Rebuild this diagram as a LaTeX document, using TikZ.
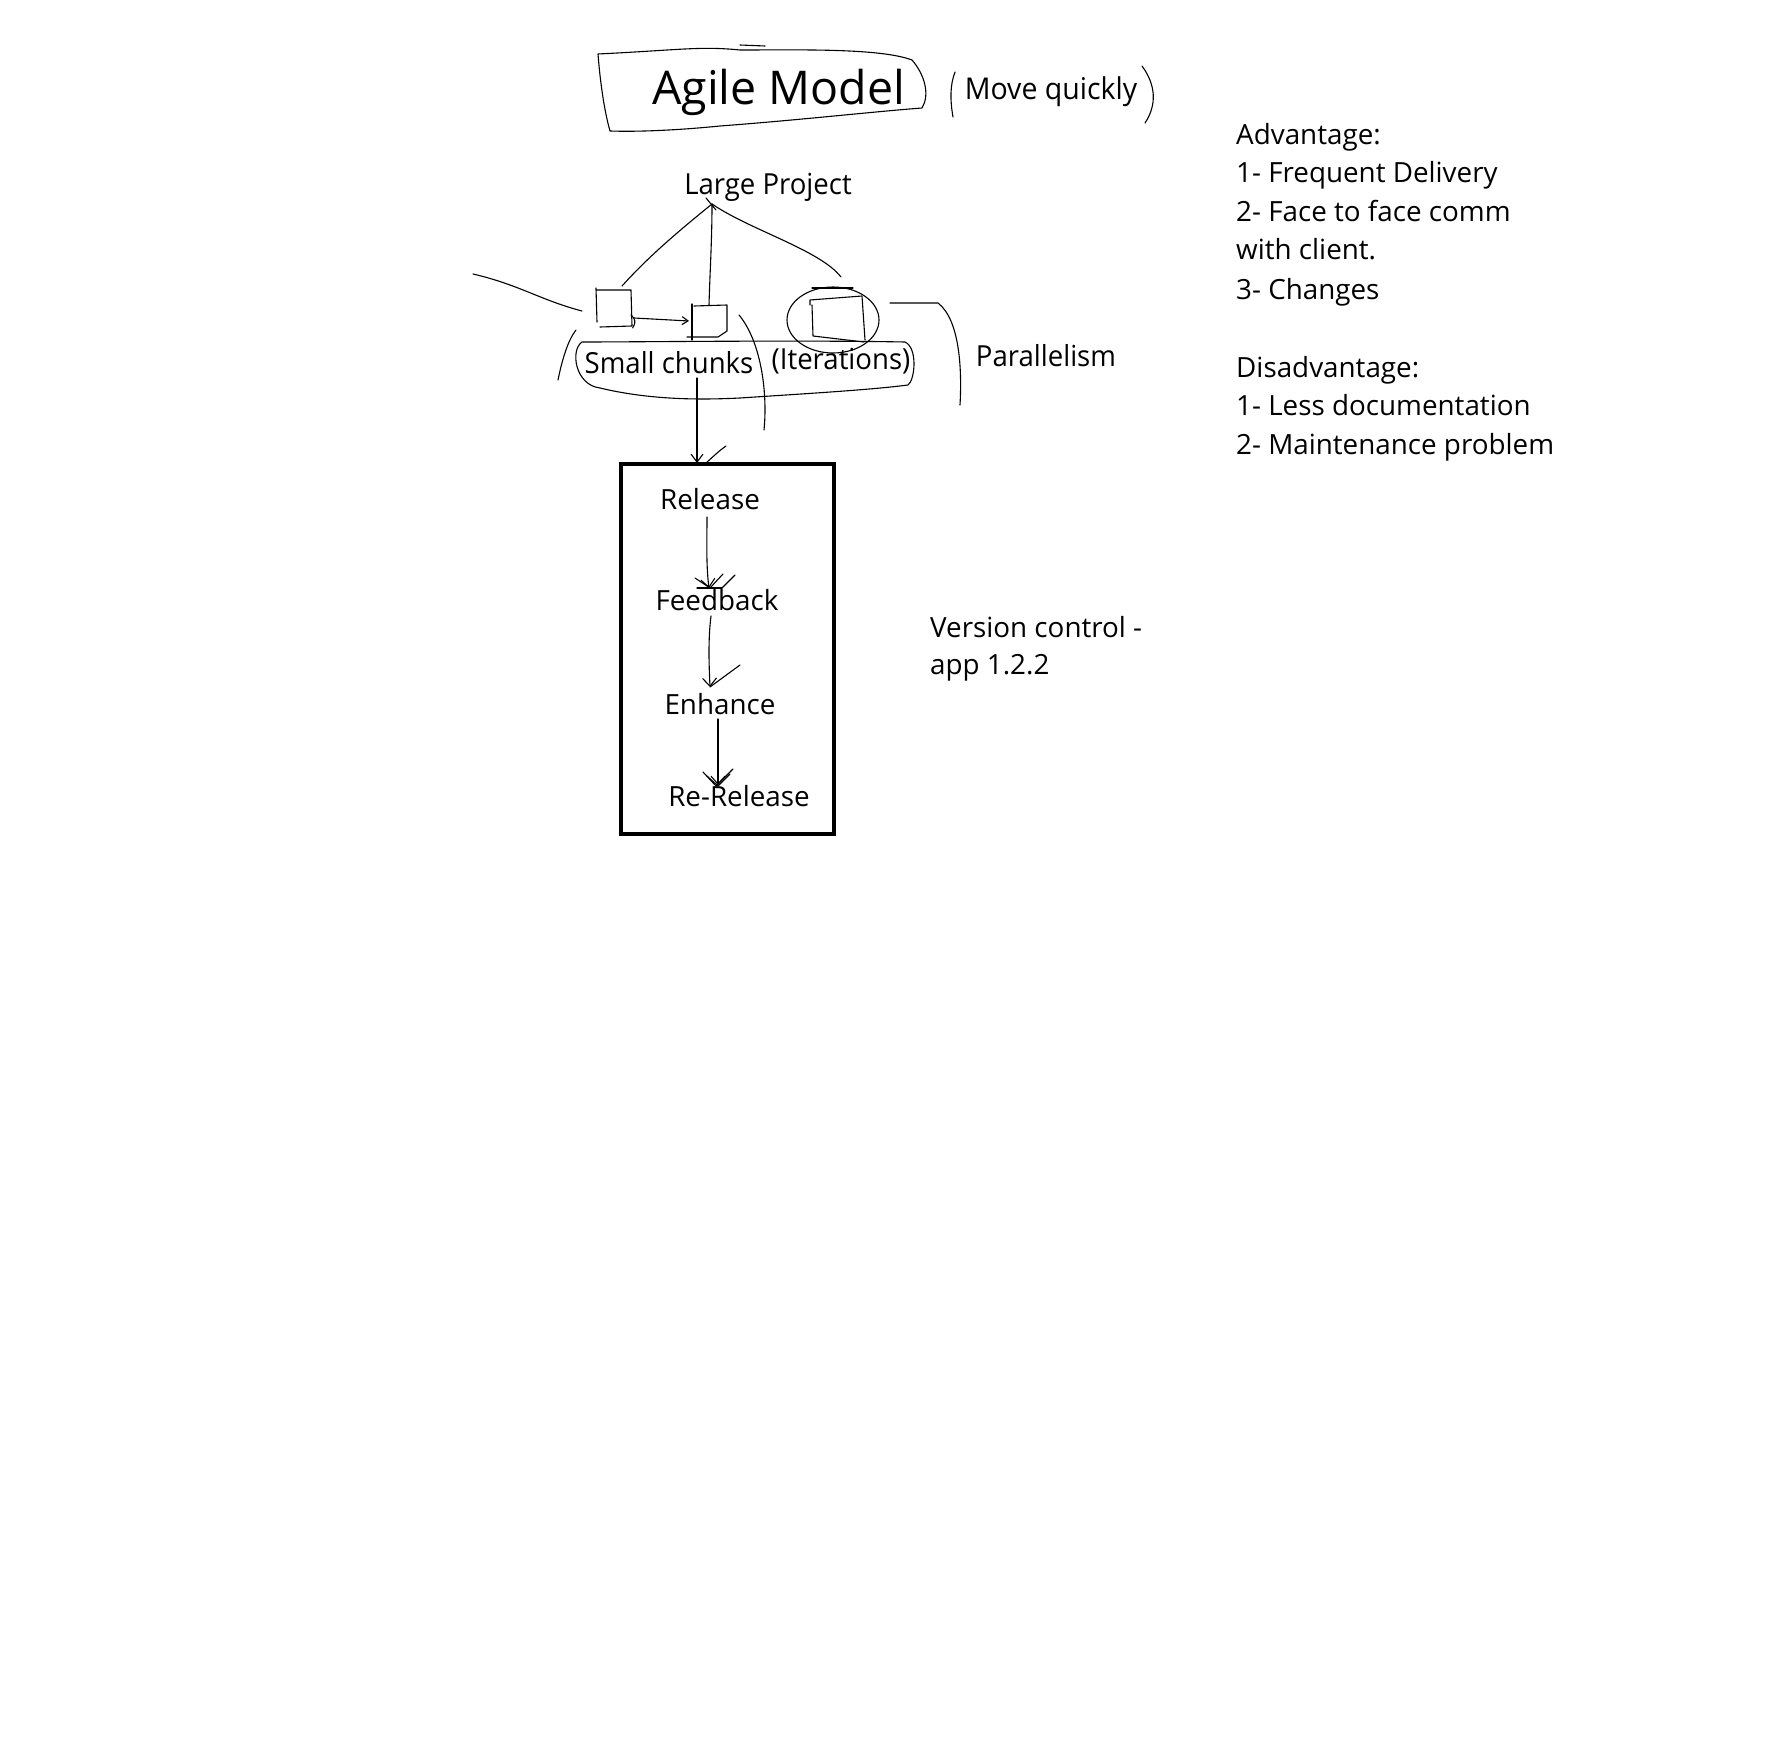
\documentclass[tikz,border=0pt]{standalone}
\usepackage{fontspec}
\setmainfont{Open Sans}
\newfontfamily\narrowfont[FakeStretch=0.95]{Open Sans}
\usetikzlibrary{arrows.meta}
\begin{document}
\begin{tikzpicture}[x=1pt,y=-1pt,
  ink/.style={line width=1.1pt,line cap=round,line join=round},
  bigbox/.style={draw,line width=4pt},
  txt/.style={inner sep=0pt,anchor=base west,font=\fontsize{27.8}{32}\selectfont},
  ntxt/.style={inner sep=0pt,anchor=base,font=\narrowfont\fontsize{29}{34}\selectfont},
  stxt/.style={inner sep=0pt,font=\fontsize{27.8}{32}\selectfont},
  barb/.style={-{Straight Barb[length=8pt,width=14pt]}}]
\useasboundingbox[fill=white] (0,0) rectangle (1789,1739);

% Title
\node[inner sep=0pt,anchor=base west,font=\fontsize{46.5}{52}\selectfont] (title) at (652,105) {Agile Model};
\draw[ink] (598,54) .. controls (680,50) and (700,46) .. (740,50) .. controls (800,50) and (880,48) .. (912,60)
  .. controls (925,75) and (930,95) .. (922,108) .. controls (870,112) and (800,120) .. (720,126)
  .. controls (680,130) and (640,132) .. (610,131) .. controls (604,110) and (600,80) .. (598,54) -- cycle;
\draw[ink] (740,45) -- (765,46);
\node[ntxt,font=\narrowfont\fontsize{30}{36}\selectfont] (move) at (1051,100) {Move quickly};
\draw[ink] (955,72) .. controls (950,85) and (950,100) .. (953,117);
\draw[ink] (1142,66) .. controls (1156,85) and (1157,105) .. (1145,123);

% Large project
\node[ntxt] (large) at (768,195) {Large Project};
\coordinate (apex) at (712,204);
\coordinate (lb) at (622,286);
\coordinate (mb) at (709,305);
\coordinate (rb) at (841,277);
\draw[ink] (apex) .. controls (680,230) and (650,255) .. (lb);
\draw[ink] (apex) .. controls (712,240) and (710,270) .. (mb);
\draw[ink] (apex) .. controls (750,230) and (820,250) .. (rb);
\draw[ink] (706,198) -- (716,210);

% small boxes
\draw[ink] (596,290) -- (631,290) -- (632,326) -- (600,327);
\draw[ink] (596,288) -- (597,322);
\draw[ink] (692,304) -- (692,340);
\draw[ink] (694,306) -- (727,305) -- (727,331) -- (718,337) -- (687,337);
\draw[ink] (631,315) .. controls (640,322) and (630,330) .. (633,328);
\draw[ink,-{Straight Barb[length=6pt,width=8pt]}] (634,318) -- (689,321);
% right box + circle
\draw[ink] (810,305) -- (810,300) -- (862,296) -- (865,340);
\draw[ink] (812,305) -- (813,336) -- (864,342);
\draw[ink] (833,320) ellipse [x radius=46, y radius=33];
\draw[ink] (812,288) -- (853,288);

% left strokes
\draw[ink] (473,274) .. controls (520,285) and (540,300) .. (582,311);
\draw[ink] (558,380) .. controls (562,360) and (568,340) .. (576,330);
% big oval
\draw[ink] (582,342) .. controls (640,342) and (800,340) .. (905,342) .. controls (918,348) and (915,380) .. (908,385)
  .. controls (870,390) and (800,394) .. (740,398) .. controls (700,400) and (650,400) .. (600,388)
  .. controls (575,385) and (570,350) .. (582,342) -- cycle;
\node[ntxt] (chunks) at (669,373) {Small chunks};
\node[ntxt] (iter) at (841,369) {(Iterations)};
% curve right of middle box
\draw[ink] (739,315) .. controls (760,340) and (768,390) .. (764,430);
% Parallelism bracket
\draw[ink] (890,303) -- (938,303) .. controls (960,320) and (962,370) .. (960,405);
\node[ntxt] (para) at (1046,366) {Parallelism};

% arrow into release box
\draw[ink,-{Straight Barb[length=8pt,width=12pt]}] (697,378) -- (697,463);
\draw[ink] (707,462) .. controls (715,455) and (720,450) .. (726,446);

% release box
\draw[bigbox] (621,464) rectangle (834,834);
\node[stxt] (rel) at (710,499) {Release};
\node[stxt] (fb) at (717,600) {Feedback};
\node[stxt] (enh) at (720,704) {Enhance};
\node[stxt] (rerel) at (739,796) {Re-Release};
\draw[ink,barb] (707,517) .. controls (707,540) and (706,565) .. (709,588);
\draw[ink] (695,578) -- (710,588) -- (723,574);
\draw[ink] (722,588) -- (735,575);
\draw[ink] (697,588) -- (722,588);
\draw[ink,barb] (711,616) .. controls (708,640) and (709,665) .. (710,687);
\draw[ink] (710,687) -- (740,665);
\draw[ink,barb] (718,719) -- (718,785);
\draw[ink] (703,772) -- (716,786) -- (733,769);
\draw[ink] (707,776) -- (718,786) -- (730,774);

% side texts
\node[txt] (vc) at (930,637) {Version control -};
\node[txt] (app) at (930,674) {app 1.2.2};
\node[txt] (adv) at (1236,145) {Advantage:};
\node[txt] (a1) at (1236,183) {1- Frequent Delivery};
\node[txt] (a2) at (1236,222) {2- Face to face comm};
\node[txt] (a2b) at (1236,260) {with client.};
\node[txt] (a3) at (1236,299) {3- Changes};
\node[txt] (dis) at (1236,377) {Disadvantage:};
\node[txt] (d1) at (1236,415) {1- Less documentation};
\node[txt] (d2) at (1236,454) {2- Maintenance problem};
\end{tikzpicture}
\end{document}
